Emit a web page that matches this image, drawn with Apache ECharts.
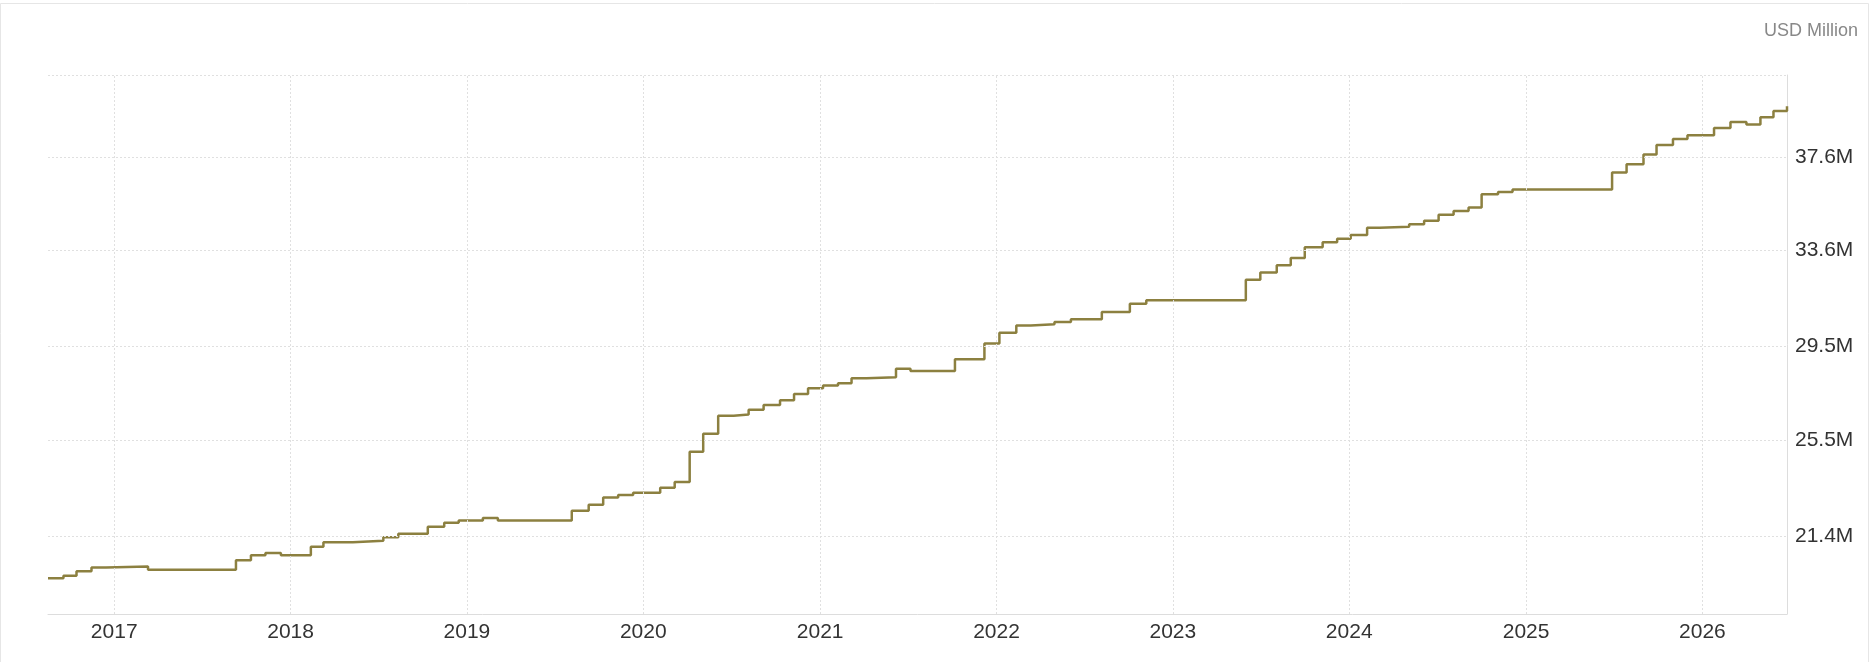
<!DOCTYPE html>
<html><head><meta charset="utf-8">
<script src="https://cdn.jsdelivr.net/npm/echarts@6/dist/echarts.min.js"></script>
<style>html,body{margin:0;padding:0;background:#fff}#c{width:1870px;height:662px}</style>
</head><body><div id="c"></div>
<script>
const dates = ['2016-08-17','2016-09-18','2016-10-15','2016-11-15','2016-12-15','2017-03-12','2017-09-10','2017-10-11','2017-11-10','2017-12-12',
'2018-02-12','2018-03-10','2018-05-10','2018-07-12','2018-08-12','2018-10-12','2018-11-15','2018-12-15','2019-02-03','2019-03-06',
'2019-08-06','2019-09-10','2019-10-10','2019-11-10','2019-12-11','2020-02-05','2020-03-06','2020-04-06','2020-05-04','2020-06-04',
'2020-07-06','2020-08-06','2020-09-06','2020-10-10','2020-11-08','2020-12-07','2021-01-07','2021-02-07','2021-03-07','2021-04-07',
'2021-06-07','2021-07-07','2021-10-07','2021-12-07','2022-01-07','2022-02-11','2022-03-13','2022-05-01','2022-06-04','2022-08-07',
'2022-10-04','2022-11-07','2023-06-01','2023-07-01','2023-08-04','2023-09-02','2023-10-01','2023-11-07','2023-12-07','2024-01-04',
'2024-02-07','2024-03-04','2024-05-04','2024-06-04','2024-07-04','2024-08-04','2024-09-04','2024-10-01','2024-11-04','2024-12-04',
'2025-06-28','2025-07-28','2025-09-01','2025-09-28','2025-11-01','2025-12-01','2026-01-25','2026-02-28','2026-04-02','2026-05-01',
'2026-05-28','2026-06-25'];
const values = [19.6,19.7,19.9,20.06,20.1,19.96,20.37,20.58,20.68,20.58,
20.94,21.14,21.2,21.35,21.5,21.8,21.97,22.07,22.17,22.07,
22.48,22.74,23.05,23.15,23.25,23.46,23.71,25.0,25.77,26.54,
26.59,26.8,27.0,27.2,27.47,27.72,27.83,27.93,28.14,28.19,
28.55,28.45,28.96,29.63,30.09,30.4,30.45,30.55,30.66,30.97,
31.33,31.48,32.35,32.66,32.97,33.28,33.74,33.95,34.1,34.26,
34.57,34.62,34.72,34.87,35.13,35.29,35.44,36.0,36.1,36.21,
36.93,37.29,37.7,38.11,38.37,38.53,38.84,39.09,38.99,39.3,
39.56,39.76];
const yTicks = [21.4,25.5,29.5,33.6,37.6];
const xYears = ['2017','2018','2019','2020','2021','2022','2023','2024','2025','2026'];

const font = 'Arial, "Liberation Sans", sans-serif';
const grid = {color:'#e0e0e0',type:[2,2],width:1};
const ts = d => new Date(d + 'T00:00:00Z').getTime();
const chart = echarts.init(document.getElementById('c'));
chart.setOption({
  animation:false,
  graphic:[{type:'rect',shape:{x:0.5,y:3.5,width:1868,height:680},style:{fill:'none',stroke:'#e6e6e6',lineWidth:1}},
    {type:'text',right:12,top:22,style:{text:'USD Million',fill:'#888',font:'18px ' + font}}],
  grid:{left:48,right:83,top:75,bottom:48},
  xAxis:{type:'value',min:ts(dates[0]),max:ts(dates[dates.length-1]),
    axisLine:{show:true,lineStyle:{color:'#ddd'}},axisTick:{show:false},splitLine:{show:false},axisLabel:{show:false}},
  yAxis:{type:'value',position:'right',min:18.07,max:41.1,
    axisLine:{show:true,lineStyle:{color:'#ddd'}},axisTick:{show:false},splitLine:{show:false},axisLabel:{show:false}},
  series:[{type:'line',step:'end',symbol:'none',data:dates.map((d,i)=>[ts(d),values[i]]),
    lineStyle:{color:'#8c8040',width:2.5},
    markLine:{silent:true,symbol:'none',lineStyle:grid,animation:false,
      data:[
        ...yTicks.map(v=>({yAxis:v,label:{show:true,position:'end',distance:8,formatter:v.toFixed(1)+'M',color:'#333',fontSize:21,fontFamily:font}})),
        {yAxis:41.1,label:{show:false}},
        ...xYears.map(y=>({xAxis:ts(y+'-01-01'),label:{show:true,position:'start',distance:8,formatter:y,color:'#333',fontSize:21,fontFamily:font}}))
      ]}}]
});
</script></body></html>
